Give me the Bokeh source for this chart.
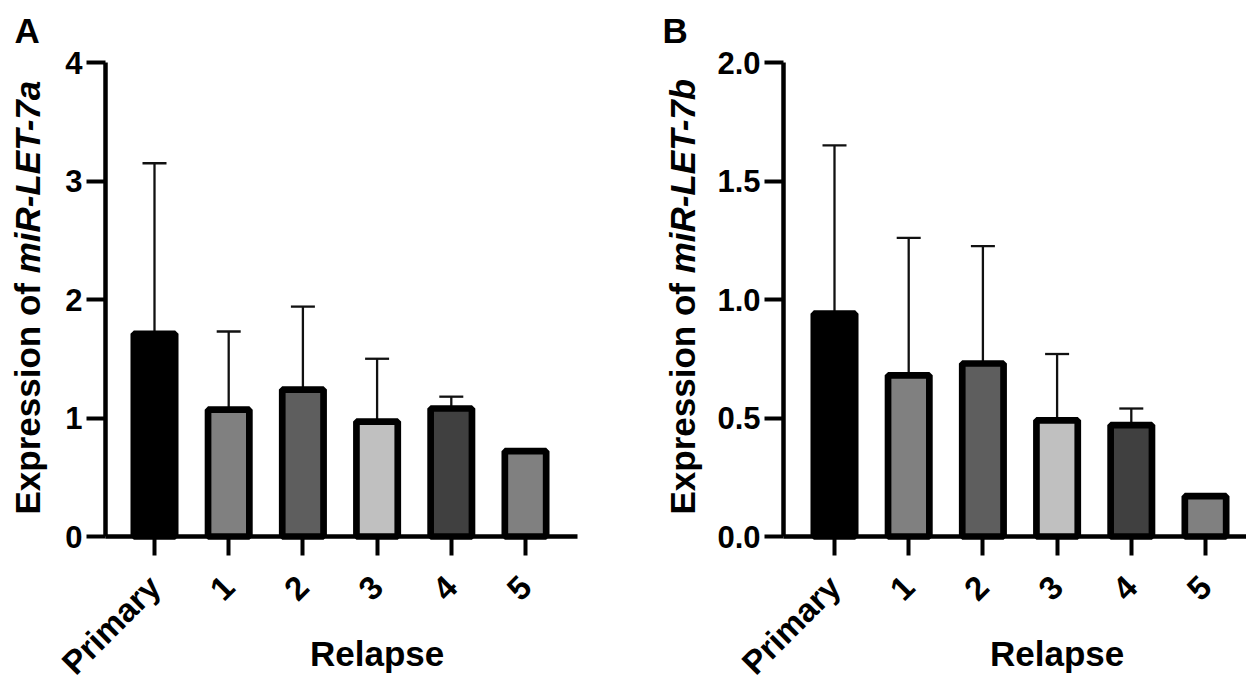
import math
from bokeh.plotting import figure
from bokeh.layouts import row
from bokeh.models import FixedTicker, Label, ColumnDataSource, Whisker, TeeHead
from bokeh.embed import file_html
from bokeh.resources import INLINE

# ---------------- data ----------------
categories = ["Primary", "1", "2", "3", "4", "5"]
group_label = "Relapse"
bar_colors = ["#000000", "#808080", "#5e5e5e", "#c0c0c0", "#404040", "#808080"]

let7a_mean = [1.71, 1.07, 1.24, 0.97, 1.08, 0.72]
let7a_sd = [1.44, 0.66, 0.70, 0.53, 0.10, 0.0]
let7b_mean = [0.94, 0.68, 0.73, 0.49, 0.47, 0.17]
let7b_sd = [0.71, 0.58, 0.495, 0.28, 0.07, 0.0]

yticks_a = [0, 1, 2, 3, 4]
yticks_a_labels = ["0", "1", "2", "3", "4"]
yticks_b = [0, 0.5, 1.0, 1.5, 2.0]
yticks_b_labels = ["0.0", "0.5", "1.0", "1.5", "2.0"]

# ---------------- layout / style ----------------
FONT = "Liberation Sans"
XTICK_FS = "33px"
YTICK_FS = "31px"
LABEL_FS = "35px"
H = 681
BASE_PX = 536      # pixel row of the x axis
TOP_PX = 62        # pixel row of the top y tick
PXX = 74.2         # pixels per category step
TXT_SHIFT = 13     # compensation for label baseline placement


def make_panel(letter, gene, means, sds, yticks, ylabels, ymax,
               canvas_w, first_px, axis_left_px, axis_right_px,
               ytitle_base_px, letter_px):
    pxy = (BASE_PX - TOP_PX) / ymax
    x_start = -first_px / PXX
    x_end = (canvas_w - first_px) / PXX
    y_start = -(H - BASE_PX) / pxy
    y_end = BASE_PX / pxy

    def dx(px):
        return x_start + px / PXX

    def dy(py):
        return (BASE_PX - py) / pxy

    p = figure(width=canvas_w, height=H, x_range=(x_start, x_end),
               y_range=(y_start, y_end), output_backend="svg",
               toolbar_location=None, min_border=0)
    p.outline_line_color = None
    p.grid.visible = False
    p.background_fill_color = "white"
    p.border_fill_color = "white"

    xs = list(range(len(categories)))

    # error bars (upper only)
    ex = [x for x, s in zip(xs, sds) if s > 0]
    eb = [m for m, s in zip(means, sds) if s > 0]
    et = [m + s for m, s in zip(means, sds) if s > 0]
    esrc = ColumnDataSource(dict(x=ex, base=eb, top=et))
    p.add_layout(Whisker(source=esrc, base="x", lower="base", upper="top",
                         line_color="#111111", line_width=2.3,
                         upper_head=TeeHead(size=24, line_width=2.3, line_color="#111111"),
                         lower_head=None))

    src = ColumnDataSource(dict(x=xs, top=means, color=bar_colors))
    p.vbar(x="x", top="top", bottom=0, width=0.557, source=src,
           fill_color="color", line_color="black", line_width=6.7)

    # axes placed at fixed locations inside the canvas
    xax, yax = p.xaxis[0], p.yaxis[0]
    for ax in (xax, yax):
        ax.axis_line_width = 4.5
        ax.axis_line_color = "black"
        ax.major_tick_line_width = 4
        ax.major_tick_line_color = "black"
        ax.major_tick_out = 19
        ax.major_tick_in = 0
        ax.minor_tick_out = 0
        ax.minor_tick_in = 0
        ax.major_label_text_font = FONT
        ax.major_label_text_font_style = "bold"
        ax.major_label_text_color = "black"

    x_left = dx(axis_left_px)
    x_right = dx(axis_right_px)
    xax.fixed_location = 0
    xax.bounds = (x_left, x_right)
    xax.ticker = FixedTicker(ticks=xs)
    xax.major_label_overrides = {i: c for i, c in enumerate(categories)}
    xax.major_label_orientation = math.pi / 4
    xax.major_label_text_font_size = XTICK_FS
    xax.major_label_standoff = 26

    yax.fixed_location = x_left
    yax.bounds = (0, ymax)
    yax.ticker = FixedTicker(ticks=yticks)
    yax.major_label_overrides = {t: l for t, l in zip(yticks, ylabels)}
    yax.major_label_text_font_size = YTICK_FS
    yax.major_label_standoff = 4

    # y axis title: bold part + bold-italic gene name
    bx = dx(ytitle_base_px - TXT_SHIFT)
    p.add_layout(Label(x=bx, y=dy(514), text="Expression of ",
                       angle=math.pi / 2, text_align="left", text_baseline="alphabetic",
                       text_font=FONT, text_font_style="bold",
                       text_font_size=LABEL_FS, text_color="black"))
    p.add_layout(Label(x=bx, y=dy(514 - 241.2), text=gene,
                       angle=math.pi / 2, text_align="left", text_baseline="alphabetic",
                       text_font=FONT, text_font_style="bold italic",
                       text_font_size=LABEL_FS, text_color="black"))

    # panel letter
    p.add_layout(Label(x=dx(letter_px), y=dy(43 - TXT_SHIFT), text=letter,
                       text_align="left", text_baseline="alphabetic",
                       text_font=FONT, text_font_style="bold",
                       text_font_size=LABEL_FS, text_color="black"))

    # group label centred under the relapse categories
    rel_x = sum(xs[1:]) / len(xs[1:])
    p.add_layout(Label(x=rel_x, y=dy(666 - TXT_SHIFT), text=group_label,
                       text_align="center", text_baseline="alphabetic",
                       text_font=FONT, text_font_style="bold",
                       text_font_size=LABEL_FS, text_color="black"))
    return p


# panel A occupies pixels 0..640, panel B 640..1246
pA = make_panel("A", "miR-LET-7a", let7a_mean, let7a_sd, yticks_a, yticks_a_labels, 4,
                640, 154, 105, 577, 40, 14)
pB = make_panel("B", "miR-LET-7b", let7b_mean, let7b_sd, yticks_b, yticks_b_labels, 2,
                606, 194, 143, 606, 55, 22)

layout = row(pA, pB)
open("out.html", "w").write(file_html(layout, INLINE))
